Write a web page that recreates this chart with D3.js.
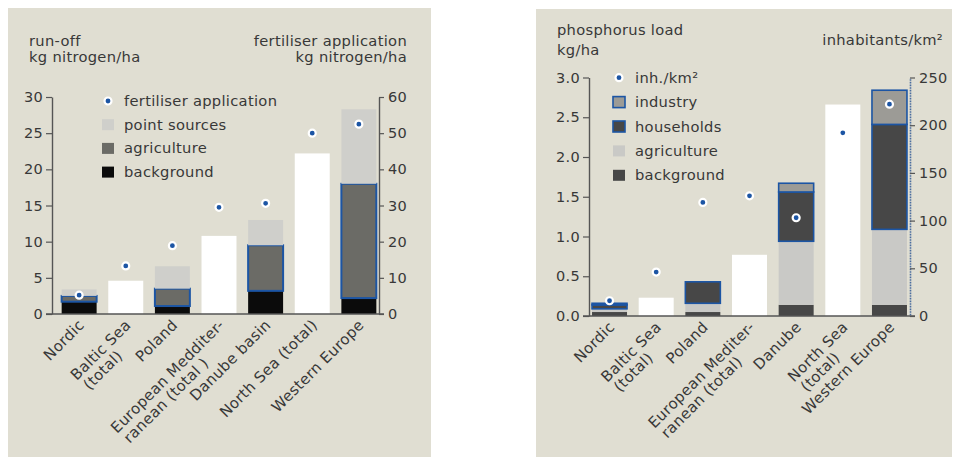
<!DOCTYPE html>
<html>
<head>
<meta charset="utf-8">
<script src="https://cdn.jsdelivr.net/npm/d3@7"></script>
<style>
  body { margin: 0; background: #fff; }
  text { font-family: "DejaVu Sans", sans-serif; fill: #383838; letter-spacing: 0.3px; }
</style>
</head>
<body>
<script>
// ---- nitrogen (left panel) ----
const nRegions = [['Nordic'], ['Baltic Sea', '(total)'], ['Poland'], ['European Medditer-', 'ranean (total )'],
                  ['Danube basin'], ['North Sea (total)'], ['Western Europe']];
const nBackground  = [1.7, 0, 1.1, 0, 3.2, 0, 2.2];
const nAgriculture = [0.8, 0, 2.4, 0, 6.3, 0, 15.8];
const nPoint       = [0.9, 0, 3.1, 0, 3.5, 0, 10.3];
const nTotal       = [0, 4.6, 0, 10.8, 0, 22.2, 0];
const nFertiliser  = [5.2, 13.3, 18.9, 29.5, 30.6, 50, 52.5];
const nLeftTicks   = [0, 5, 10, 15, 20, 25, 30];
const nRightTicks  = [0, 10, 20, 30, 40, 50, 60];

// ---- phosphorus (right panel) ----
const pRegions = [['Nordic'], ['Baltic Sea', '(total)'], ['Poland'], ['European Mediter-', 'ranean (total)'],
                  ['Danube'], ['North Sea', '(total)'], ['Western Europe']];
const pBackground  = [0.05, 0, 0.05, 0, 0.14, 0, 0.14];
const pAgriculture = [0.04, 0, 0.11, 0, 0.80, 0, 0.95];
const pHouseholds  = [0.05, 0, 0.27, 0, 0.62, 0, 1.32];
const pIndustry    = [0.02, 0, 0, 0, 0.11, 0, 0.43];
const pTotal       = [0, 0.23, 0, 0.77, 0, 2.66, 0];
const pInhabitants = [16, 46, 119, 126, 103, 192, 222];
const pLeftTicks   = [0, 0.5, 1, 1.5, 2, 2.5, 3];
const pRightTicks  = [0, 50, 100, 150, 200, 250];

const panelFill = '#e0ded2', axisCol = '#555', blue = '#1c55a4';

let svg = d3.select('body').append('svg').attr('width', 957).attr('height', 457);

function drawPanel(o) {
  let g = svg.append('g');
  g.append('rect').attr('x', o.bg[0]).attr('y', o.bg[1]).attr('width', o.bg[2]).attr('height', o.bg[3]).attr('fill', panelFill);

  let x  = d3.scaleBand().domain(d3.range(o.regions.length)).range(o.xRange).paddingInner(0.25).paddingOuter(o.outer);
  let yL = d3.scaleLinear().domain([0, d3.max(o.leftTicks)]).range(o.yRange);
  let yR = d3.scaleLinear().domain([0, d3.max(o.rightTicks)]).range(o.yRange);

  // stacked bars
  let table = o.regions.map((r, i) => {
    let row = { i: i };
    o.keys.forEach(k => row[k.name] = k.values[i]);
    return row;
  });
  let series = d3.stack().keys(o.keys.map(k => k.name))(table);
  series.forEach((s, si) => {
    let k = o.keys[si];
    g.selectAll(null).data(s.filter(d => d[1] > d[0])).enter().append('rect')
      .attr('x', d => x(d.data.i))
      .attr('y', d => yL(d[1]))
      .attr('width', x.bandwidth())
      .attr('height', d => yL(d[0]) - yL(d[1]))
      .attr('fill', k.color)
      .attr('stroke', k.outline ? blue : 'none')
      .attr('stroke-width', o.outlineWidth);
  });
  // white total bars
  g.selectAll(null).data(o.totals.map((v, i) => ({ v: v, i: i })).filter(d => d.v > 0)).enter().append('rect')
    .attr('x', d => x(d.i)).attr('y', d => yL(d.v))
    .attr('width', x.bandwidth()).attr('height', d => yL(0) - yL(d.v))
    .attr('fill', '#fff');

  // axes
  let left = g.append('g').attr('transform', `translate(${o.xRange[0] - o.leftGap},0)`)
    .call(d3.axisLeft(yL).tickValues(o.leftTicks).tickFormat(o.leftFormat).tickSize(6).tickSizeOuter(0).tickPadding(3));
  let right = g.append('g').attr('transform', `translate(${o.xRange[1] + o.rightGap},0)`)
    .call(d3.axisRight(yR).tickValues(o.rightTicks).tickSize(5).tickSizeOuter(0).tickPadding(4));
  [left, right].forEach(a => {
    a.selectAll('line').attr('stroke', axisCol).attr('stroke-width', 1.2);
    a.select('.domain').attr('stroke', axisCol).attr('stroke-width', 1.4);
    a.selectAll('text').style('font-size', '14.5px').attr('fill', '#444');
  });
  if (o.rightBlue) right.select('.domain').attr('stroke', '#4a6c9e').attr('stroke-width', 1.6).attr('stroke-dasharray', '1 0.6');
  g.append('line').attr('x1', o.xRange[0] - o.leftGap - 6).attr('x2', o.xRange[1] + o.rightGap + 5)
    .attr('y1', yL(0)).attr('y2', yL(0)).attr('stroke', axisCol).attr('stroke-width', 1.4);

  // dots
  g.selectAll(null).data(o.dots).enter().append('circle')
    .attr('cx', (d, i) => x(i) + x.bandwidth() / 2)
    .attr('cy', d => yR(d))
    .attr('r', 3.5).attr('fill', blue).attr('stroke', '#fff').attr('stroke-width', 2.2);

  // category labels
  o.regions.forEach((lines, i) => {
    let gl = g.append('g')
      .attr('transform', `translate(${x(i) + x.bandwidth() / 2 + o.labelDx},${yL(0) + o.labelDy}) rotate(-45)`);
    let first = gl.append('text').attr('text-anchor', 'end').style('font-size', '15px').text(lines[0]);
    let w = first.node().getComputedTextLength();
    lines.slice(1).forEach((t, k) => {
      gl.append('text').attr('x', -w + 2).attr('y', (k + 1) * 16).style('font-size', '15px').text(t);
    });
  });

  // titles
  o.titles.forEach(t => {
    g.append('text').attr('x', t.x).attr('y', t.y).attr('text-anchor', t.anchor || 'start')
      .style('font-size', '14.7px').text(t.text);
  });

  // legend
  o.legend.forEach((l, i) => {
    let ly = o.legendY + i * o.legendStep;
    if (l.dot) {
      g.append('circle').attr('cx', o.legendX).attr('cy', ly).attr('r', 3.5)
        .attr('fill', blue).attr('stroke', '#fff').attr('stroke-width', 2.2);
    } else {
      g.append('rect').attr('x', o.legendX - 6).attr('y', ly - 5.5).attr('width', 12).attr('height', 11)
        .attr('fill', l.color).attr('stroke', l.outline ? blue : 'none').attr('stroke-width', 1.6);
    }
    g.append('text').attr('x', o.legendX + 16).attr('y', ly + 5).style('font-size', '14.7px').text(l.text);
  });
}

drawPanel({
  bg: [8, 8, 423, 449],
  regions: nRegions,
  xRange: [57, 381], outer: 0.1, yRange: [314, 97],
  leftGap: 5, rightGap: -2,
  leftTicks: nLeftTicks, rightTicks: nRightTicks, leftFormat: d3.format('d'),
  keys: [
    { name: 'background', values: nBackground, color: '#0b0b0b' },
    { name: 'agriculture', values: nAgriculture, color: '#6b6b66', outline: true },
    { name: 'point', values: nPoint, color: '#cfcfcb' }
  ],
  outlineWidth: 2,
  totals: nTotal,
  dots: nFertiliser,
  labelDx: 6, labelDy: 12,
  titles: [
    { x: 29, y: 46, text: 'run-off' },
    { x: 29, y: 62, text: 'kg nitrogen/ha' },
    { x: 407, y: 46, text: 'fertiliser application', anchor: 'end' },
    { x: 407, y: 62, text: 'kg nitrogen/ha', anchor: 'end' }
  ],
  legendX: 108, legendY: 101, legendStep: 23.7,
  legend: [
    { dot: true, text: 'fertiliser application' },
    { color: '#cfcfcb', text: 'point sources' },
    { color: '#6b6b66', text: 'agriculture' },
    { color: '#0b0b0b', text: 'background' }
  ]
});

drawPanel({
  bg: [536, 9, 416, 448],
  regions: pRegions,
  xRange: [589, 910], outer: 0.065, yRange: [316, 77.5],
  leftGap: 0, rightGap: 0, rightBlue: true,
  leftTicks: pLeftTicks, rightTicks: pRightTicks, leftFormat: d3.format('.1f'),
  keys: [
    { name: 'background', values: pBackground, color: '#474747' },
    { name: 'agriculture', values: pAgriculture, color: '#c9c9c6' },
    { name: 'households', values: pHouseholds, color: '#474747', outline: true },
    { name: 'industry', values: pIndustry, color: '#9c9b96', outline: true }
  ],
  outlineWidth: 1.6,
  totals: pTotal,
  dots: pInhabitants,
  labelDx: 6, labelDy: 12,
  titles: [
    { x: 557, y: 35, text: 'phosphorus load' },
    { x: 557, y: 55, text: 'kg/ha' },
    { x: 943, y: 45, text: 'inhabitants/km²', anchor: 'end' }
  ],
  legendX: 619, legendY: 77.7, legendStep: 24.4,
  legend: [
    { dot: true, text: 'inh./km²' },
    { color: '#9c9b96', outline: true, text: 'industry' },
    { color: '#474747', outline: true, text: 'households' },
    { color: '#c9c9c6', text: 'agriculture' },
    { color: '#474747', text: 'background' }
  ]
});
</script>
</body>
</html>
